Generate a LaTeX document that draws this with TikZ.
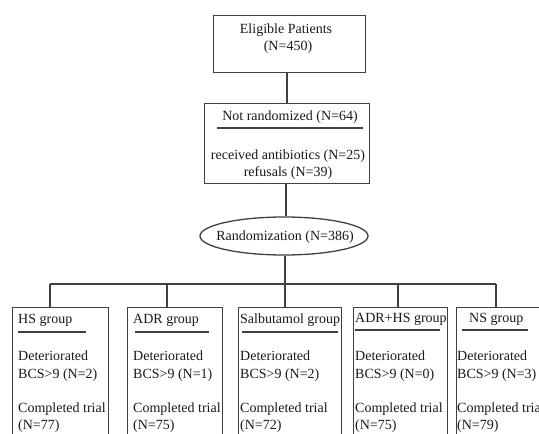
\documentclass[tikz,border=0pt]{standalone}
\usepackage{fontspec}
\setmainfont{Liberation Serif}
\usetikzlibrary{shapes.geometric}
\definecolor{lc}{gray}{0.25}
\begin{document}
\begin{tikzpicture}[x=1pt,y=-1pt,
  box/.style={draw=lc,line width=1.3pt,rectangle,inner sep=0pt,anchor=north west},
  lbl/.style={inner sep=0pt,font=\fontsize{14}{17}\selectfont,text=black!90},
  conn/.style={draw=lc,line width=1.3pt}]
\useasboundingbox (0,0) rectangle (539,434);
\clip (0,0) rectangle (539,434);
% top box
\node[box,minimum width=152pt,minimum height=57pt] (elig) at (213,15) {};
\node[lbl,anchor=base] (eligA) at (286,33) {Eligible Patients};
\node[lbl,anchor=base] (eligB) at (288,50) {(N=450)};
% not randomized
\node[box,minimum width=165pt,minimum height=80pt] (notr) at (204,103) {};
\node[lbl,anchor=base] (notrA) at (290,120) {Not randomized (N=64)};
\coordinate (nrl) at (217,128);
\coordinate (nrr) at (363,128);
\draw[conn] (nrl) -- (nrr);
\node[lbl,anchor=base] (notrB) at (288,159) {received antibiotics (N=25)};
\node[lbl,anchor=base] (notrC) at (288,176) {refusals (N=39)};
% randomization
\node[ellipse,draw=lc,line width=1.3pt,minimum width=168pt,minimum height=38pt,inner sep=0pt] (rand) at (284,236) {};
\node[lbl,anchor=base] (randT) at (285,240) {Randomization (N=386)};
% connectors
\draw[conn] (elig.south -| 287,0) -- (notr.north -| 287,0);
\draw[conn] (notr.south -| 286,0) -- (rand.north -| 286,0);
\coordinate (bc) at (285,284);
\coordinate (b1) at (50,284);
\coordinate (b2) at (167,284);
\coordinate (b3) at (285,284);
\coordinate (b4) at (398,284);
\coordinate (b5) at (496,284);
\draw[conn] (rand.south -| bc) -- (bc);
\draw[conn] (b1) -- (b5);
% group boxes
\node[box,minimum width=96pt,minimum height=160pt] (g1) at (12,307) {};
\node[box,minimum width=95pt,minimum height=160pt] (g2) at (127,307) {};
\node[box,minimum width=103pt,minimum height=160pt] (g3) at (238,307) {};
\node[box,minimum width=94pt,minimum height=160pt] (g4) at (353,307) {};
\node[box,minimum width=100pt,minimum height=160pt] (g5) at (456,307) {};
\draw[conn] (b1) -- (b1 |- g1.north);
\draw[conn] (b2) -- (b2 |- g2.north);
\draw[conn] (b3) -- (b3 |- g3.north);
\draw[conn] (b4) -- (b4 |- g4.north);
\draw[conn] (b5) -- (b5 |- g5.north);
% headers
\node[lbl,anchor=base west] (h1) at (18,323) {HS group};
\node[lbl,anchor=base west] (h2) at (133,323) {ADR group};
\node[lbl,anchor=base west] (h3) at (240,323) {Salbutamol group};
\node[lbl,anchor=base west] (h4) at (355,322) {ADR+HS group};
\node[lbl,anchor=base west] (h5) at (469,322) {NS group};
% header rules
\coordinate (r1a) at (18,332); \coordinate (r1b) at (86,332);
\coordinate (r2a) at (135,332); \coordinate (r2b) at (209,332);
\coordinate (r3a) at (242,332); \coordinate (r3b) at (338,332);
\coordinate (r4a) at (355,330); \coordinate (r4b) at (440,330);
\coordinate (r5a) at (462,330); \coordinate (r5b) at (528,330);
\draw[conn] (r1a) -- (r1b);
\draw[conn] (r2a) -- (r2b);
\draw[conn] (r3a) -- (r3b);
\draw[conn] (r4a) -- (r4b);
\draw[conn] (r5a) -- (r5b);
% body texts
\foreach \x/\n/\d/\c/\i in {18/2/77/1/a,133/1/75/2/b,240/2/72/3/c,355/0/75/4/d,457/3/79/5/e}{
  \node[lbl,anchor=base west] (det\i) at (\x,360) {Deteriorated};
  \node[lbl,anchor=base west] (bcs\i) at (\x,378) {BCS>9 (N=\n)};
  \node[lbl,anchor=base west] (com\i) at (\x,412) {Completed trial};
  \node[lbl,anchor=base west] (num\i) at (\x,429) {(N=\d)};
}
\end{tikzpicture}
\end{document}
